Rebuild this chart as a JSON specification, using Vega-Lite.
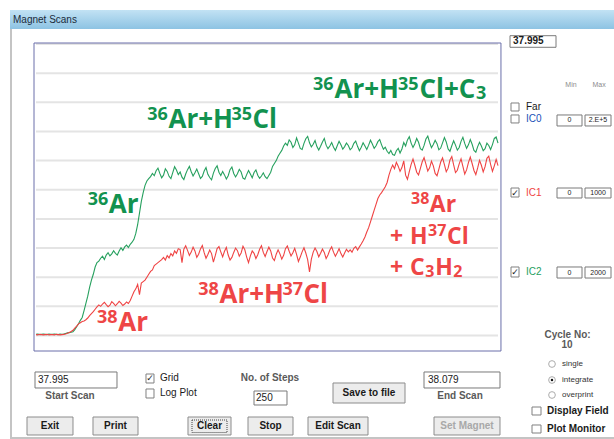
{
"$schema":"https://vega.github.io/schema/vega-lite/v6.json",
"width":462,"height":291.5,"autosize":"none",
"padding":{"left":36,"top":44,"right":116,"bottom":103.5},
"background":"white",
"config":{"view":{"stroke":null}},
"encoding":{
"x":{"field":"s","type":"quantitative","scale":{"domain":[0,250],"nice":false,"zero":false},"axis":null},
"y":{"field":"v","type":"quantitative","scale":{"domain":[0,100],"nice":false,"zero":false},"axis":null}
},
"layer":[
{"data":{"values":[{"s":-14.07,"s2":312.77,"v":111.67,"v2":105.14}]},
 "mark":{"type":"rect","color":{"gradient":"linear","x1":0,"y1":0,"x2":0,"y2":1,"stops":[{"offset":0,"color":"#c2e2f4"},{"offset":1,"color":"#8dc3e3"}]}},
 "encoding":{"x2":{"field":"s2"},"y2":{"field":"v2"}}},
{"data":{"values":[{"s":-13.53,"s2":-13.53,"v":105.14,"v2":-35.16},{"s":-14.07,"s2":312.77,"v":-35.16,"v2":-35.16}]},
 "mark":{"type":"rule","color":"#c4c4c4","strokeWidth":2},
 "encoding":{"x2":{"field":"s2"},"y2":{"field":"v2"}}},
{"data":{"values":[{"s":0,"s2":250,"v":0},{"s":0,"s2":250,"v":10},{"s":0,"s2":250,"v":20},{"s":0,"s2":250,"v":30},{"s":0,"s2":250,"v":40},{"s":0,"s2":250,"v":50},{"s":0,"s2":250,"v":60},{"s":0,"s2":250,"v":70},{"s":0,"s2":250,"v":80},{"s":0,"s2":250,"v":90},{"s":0,"s2":250,"v":100}]},
 "mark":{"type":"rule","color":"#e4e4e4","strokeWidth":2},
 "encoding":{"x2":{"field":"s2"}}},
{"data":{"values":[{"s":-1.08,"s2":251.6,"v":100.34,"v2":-5.32}]},
 "mark":{"type":"rect","fillOpacity":0,"stroke":"#6a6eaa","strokeWidth":1},
 "encoding":{"x2":{"field":"s2"},"y2":{"field":"v2"}}},
{"data":{"values":[
{"s":0,"IC2":0.4,"IC1":0.3},{"s":1,"IC2":0.5,"IC1":0.2},{"s":2,"IC2":0.3,"IC1":0.4},{"s":3,"IC2":0.4,"IC1":0.3},{"s":4,"IC2":0.5,"IC1":0.2},
{"s":5,"IC2":0.4,"IC1":0.3},{"s":6,"IC2":0.3,"IC1":0.4},{"s":7,"IC2":0.5,"IC1":0.2},{"s":8,"IC2":0.4,"IC1":0.3},{"s":9,"IC2":0.4,"IC1":0.3},
{"s":10,"IC2":0.5,"IC1":0.2},{"s":11,"IC2":0.4,"IC1":0.4},{"s":12,"IC2":0.3,"IC1":0.3},{"s":13,"IC2":0.5,"IC1":0.2},{"s":14,"IC2":0.4,"IC1":0.3},
{"s":15,"IC2":0.5,"IC1":0.4},{"s":16,"IC2":0.7,"IC1":0.5},{"s":17,"IC2":0.9,"IC1":0.8},{"s":18,"IC2":1.0,"IC1":1.0},{"s":19,"IC2":1.1,"IC1":1.4},
{"s":20,"IC2":1.3,"IC1":1.8},{"s":21,"IC2":2.0,"IC1":2.5},{"s":22,"IC2":3.0,"IC1":3.2},{"s":23,"IC2":4.0,"IC1":4.0},{"s":24,"IC2":5.2,"IC1":4.4},
{"s":25,"IC2":6.2,"IC1":4.8},{"s":26,"IC2":8.5,"IC1":5.0},{"s":27,"IC2":11,"IC1":5.4},{"s":28,"IC2":13.5,"IC1":6.0},{"s":29,"IC2":16.5,"IC1":6.8},
{"s":30,"IC2":19,"IC1":7.5},{"s":31,"IC2":21,"IC1":8.2},{"s":32,"IC2":23.5,"IC1":9.0},{"s":33,"IC2":25,"IC1":9.8},{"s":34,"IC2":25.5,"IC1":10.5},
{"s":35,"IC2":26.5,"IC1":10.0},{"s":36,"IC2":27.2,"IC1":10.8},{"s":37,"IC2":26.1,"IC1":11.4},{"s":38,"IC2":27.6,"IC1":10.6},{"s":39,"IC2":28.4,"IC1":9.9},
{"s":40,"IC2":27.3,"IC1":10.4},{"s":41,"IC2":28.0,"IC1":11.6},{"s":42,"IC2":29.1,"IC1":11.0},{"s":43,"IC2":28.2,"IC1":10.2},{"s":44,"IC2":27.6,"IC1":10.9},
{"s":45,"IC2":29.0,"IC1":11.7},{"s":46,"IC2":30.1,"IC1":11.1},{"s":47,"IC2":29.2,"IC1":10.3},{"s":48,"IC2":30.4,"IC1":10.8},{"s":49,"IC2":31.0,"IC1":11.5},
{"s":50,"IC2":30.2,"IC1":11.0},{"s":51,"IC2":31.3,"IC1":12},{"s":52,"IC2":32.0,"IC1":13.5},{"s":53,"IC2":33,"IC1":15},{"s":54,"IC2":35,"IC1":16},
{"s":55,"IC2":38,"IC1":17.5},{"s":56,"IC2":42,"IC1":14},{"s":57,"IC2":46,"IC1":18},{"s":58,"IC2":49,"IC1":18.5},{"s":59,"IC2":51.5,"IC1":19},
{"s":60,"IC2":53,"IC1":20},{"s":61,"IC2":53.8,"IC1":21},{"s":62,"IC2":54.5,"IC1":22},{"s":63,"IC2":55.6,"IC1":22.5},{"s":64,"IC2":54.8,"IC1":24},
{"s":65,"IC2":56.5,"IC1":24.5},{"s":66,"IC2":57.4,"IC1":25},{"s":67,"IC2":55.6,"IC1":25.5},{"s":68,"IC2":54.1,"IC1":26},{"s":69,"IC2":55.0,"IC1":26.8},
{"s":70,"IC2":57.2,"IC1":25.9},{"s":71,"IC2":56.3,"IC1":27.4},{"s":72,"IC2":54.6,"IC1":26.6},{"s":73,"IC2":53.8,"IC1":28.1},{"s":74,"IC2":55.9,"IC1":27.3},
{"s":75,"IC2":57.9,"IC1":29.0},{"s":76,"IC2":56.8,"IC1":28.2},{"s":77,"IC2":55.2,"IC1":29.8},{"s":78,"IC2":56.1,"IC1":29.5},{"s":79,"IC2":54.3,"IC1":25},
{"s":80,"IC2":53.5,"IC1":29.6},{"s":81,"IC2":55.4,"IC1":30.8},{"s":82,"IC2":56.9,"IC1":29.2},{"s":83,"IC2":58.0,"IC1":27.5},{"s":84,"IC2":56.2,"IC1":28.6},
{"s":85,"IC2":54.7,"IC1":30.3},{"s":86,"IC2":55.8,"IC1":29.0},{"s":87,"IC2":57.1,"IC1":26.8},{"s":88,"IC2":55.5,"IC1":27.9},{"s":89,"IC2":53.9,"IC1":29.7},
{"s":90,"IC2":54.6,"IC1":30.9},{"s":91,"IC2":56.4,"IC1":28.4},{"s":92,"IC2":57.6,"IC1":26.5},{"s":93,"IC2":55.3,"IC1":27.8},{"s":94,"IC2":54.2,"IC1":29.3},
{"s":95,"IC2":53.4,"IC1":28.1},{"s":96,"IC2":55.7,"IC1":25.2},{"s":97,"IC2":57.3,"IC1":27.4},{"s":98,"IC2":58.2,"IC1":29.8},{"s":99,"IC2":56.0,"IC1":30.5},
{"s":100,"IC2":54.9,"IC1":28.7},{"s":101,"IC2":56.3,"IC1":27.0},{"s":102,"IC2":55.1,"IC1":28.9},{"s":103,"IC2":53.7,"IC1":30.2},{"s":104,"IC2":54.8,"IC1":27.6},
{"s":105,"IC2":56.9,"IC1":25.9},{"s":106,"IC2":57.8,"IC1":26.8},{"s":107,"IC2":55.6,"IC1":28.5},{"s":108,"IC2":54.4,"IC1":30.0},{"s":109,"IC2":55.5,"IC1":29.1},
{"s":110,"IC2":57.0,"IC1":27.2},{"s":111,"IC2":56.1,"IC1":28.3},{"s":112,"IC2":54.0,"IC1":30.6},{"s":113,"IC2":53.6,"IC1":29.4},{"s":114,"IC2":55.2,"IC1":26.9},
{"s":115,"IC2":56.6,"IC1":25.0},{"s":116,"IC2":55.4,"IC1":27.3},{"s":117,"IC2":54.1,"IC1":29.0},{"s":118,"IC2":55.9,"IC1":28.2},{"s":119,"IC2":56.8,"IC1":26.4},
{"s":120,"IC2":55.0,"IC1":27.7},{"s":121,"IC2":53.9,"IC1":29.6},{"s":122,"IC2":54.7,"IC1":30.8},{"s":123,"IC2":55.8,"IC1":28.5},{"s":124,"IC2":54.5,"IC1":27.1},
{"s":125,"IC2":53.8,"IC1":28.8},{"s":126,"IC2":54.9,"IC1":30.3},{"s":127,"IC2":56,"IC1":29.0},{"s":128,"IC2":58,"IC1":26.6},{"s":129,"IC2":59,"IC1":25.7},
{"s":130,"IC2":60,"IC1":27.9},{"s":131,"IC2":61.5,"IC1":29.4},{"s":132,"IC2":62.5,"IC1":28.0},{"s":133,"IC2":63.5,"IC1":26.2},{"s":134,"IC2":65,"IC1":27.5},
{"s":135,"IC2":66,"IC1":29.8},{"s":136,"IC2":65.2,"IC1":30.7},{"s":137,"IC2":67.1,"IC1":28.9},{"s":138,"IC2":66.3,"IC1":27.3},{"s":139,"IC2":64.5,"IC1":28.4},
{"s":140,"IC2":65.4,"IC1":29.9},{"s":141,"IC2":67.8,"IC1":27.8},{"s":142,"IC2":66.0,"IC1":25.4},{"s":143,"IC2":64.2,"IC1":26.9},{"s":144,"IC2":63.8,"IC1":28.7},
{"s":145,"IC2":65.9,"IC1":30.1},{"s":146,"IC2":67.5,"IC1":28.3},{"s":147,"IC2":68.3,"IC1":26.0},{"s":148,"IC2":66.1,"IC1":21.8},{"s":149,"IC2":64.7,"IC1":26.2},
{"s":150,"IC2":65.6,"IC1":28.6},{"s":151,"IC2":66.9,"IC1":30.0},{"s":152,"IC2":64.8,"IC1":28.8},{"s":153,"IC2":63.6,"IC1":27.0},{"s":154,"IC2":64.9,"IC1":28.2},
{"s":155,"IC2":66.4,"IC1":29.7},{"s":156,"IC2":67.6,"IC1":28.5},{"s":157,"IC2":65.3,"IC1":26.4},{"s":158,"IC2":64.1,"IC1":27.6},{"s":159,"IC2":65.0,"IC1":29.3},
{"s":160,"IC2":66.2,"IC1":30.4},{"s":161,"IC2":64.6,"IC1":28.6},{"s":162,"IC2":63.5,"IC1":27.2},{"s":163,"IC2":65.1,"IC1":28.4},{"s":164,"IC2":66.6,"IC1":29.8},
{"s":165,"IC2":65.4,"IC1":28.1},{"s":166,"IC2":63.9,"IC1":26.9},{"s":167,"IC2":64.8,"IC1":28.3},{"s":168,"IC2":66.0,"IC1":29.6},{"s":169,"IC2":65.2,"IC1":28.7},
{"s":170,"IC2":63.7,"IC1":29.4},{"s":171,"IC2":64.4,"IC1":28.6},{"s":172,"IC2":65.9,"IC1":29.9},{"s":173,"IC2":66.7,"IC1":30.5},{"s":174,"IC2":64.9,"IC1":29.3},
{"s":175,"IC2":63.4,"IC1":30.4},{"s":176,"IC2":64.6,"IC1":31.4},{"s":177,"IC2":66.1,"IC1":32.5},{"s":178,"IC2":65.0,"IC1":33.8},{"s":179,"IC2":63.8,"IC1":35.5},
{"s":180,"IC2":65.3,"IC1":37},{"s":181,"IC2":67.0,"IC1":39},{"s":182,"IC2":65.7,"IC1":41},{"s":183,"IC2":64.2,"IC1":43},{"s":184,"IC2":65.1,"IC1":45},
{"s":185,"IC2":66.5,"IC1":47},{"s":186,"IC2":67.2,"IC1":48.2},{"s":187,"IC2":65.4,"IC1":49},{"s":188,"IC2":63.9,"IC1":50},{"s":189,"IC2":64.6,"IC1":51},
{"s":190,"IC2":63.2,"IC1":52.5},{"s":191,"IC2":62.4,"IC1":55},{"s":192,"IC2":63.5,"IC1":57},{"s":193,"IC2":62.1,"IC1":58.5},{"s":194,"IC2":61.8,"IC1":57.2},
{"s":195,"IC2":63.4,"IC1":59.4},{"s":196,"IC2":64.2,"IC1":58.1},{"s":197,"IC2":62.6,"IC1":56.3},{"s":198,"IC2":64.0,"IC1":57.6},{"s":199,"IC2":66.2,"IC1":59.9},
{"s":200,"IC2":65.0,"IC1":55.0},{"s":201,"IC2":67.1,"IC1":53.6},{"s":202,"IC2":68.2,"IC1":56.2},{"s":203,"IC2":66.0,"IC1":58.7},{"s":204,"IC2":64.5,"IC1":60.5},
{"s":205,"IC2":65.8,"IC1":58.4},{"s":206,"IC2":67.6,"IC1":56.0},{"s":207,"IC2":66.3,"IC1":55.1},{"s":208,"IC2":64.1,"IC1":57.3},{"s":209,"IC2":63.6,"IC1":59.6},
{"s":210,"IC2":65.2,"IC1":61.0},{"s":211,"IC2":67.4,"IC1":58.8},{"s":212,"IC2":68.4,"IC1":56.4},{"s":213,"IC2":66.2,"IC1":57.5},{"s":214,"IC2":64.4,"IC1":59.8},
{"s":215,"IC2":65.5,"IC1":58.2},{"s":216,"IC2":67.0,"IC1":55.6},{"s":217,"IC2":65.8,"IC1":54.8},{"s":218,"IC2":63.7,"IC1":57.1},{"s":219,"IC2":64.3,"IC1":59.5},
{"s":220,"IC2":66.1,"IC1":60.9},{"s":221,"IC2":67.9,"IC1":58.6},{"s":222,"IC2":66.4,"IC1":56.2},{"s":223,"IC2":64.0,"IC1":57.4},{"s":224,"IC2":63.2,"IC1":60.2},
{"s":225,"IC2":65.1,"IC1":61.4},{"s":226,"IC2":66.8,"IC1":58.5},{"s":227,"IC2":65.3,"IC1":55.9},{"s":228,"IC2":63.6,"IC1":56.7},{"s":229,"IC2":64.5,"IC1":58.9},
{"s":230,"IC2":66.6,"IC1":60.6},{"s":231,"IC2":68.0,"IC1":58.0},{"s":232,"IC2":65.9,"IC1":55.4},{"s":233,"IC2":64.2,"IC1":56.8},{"s":234,"IC2":65.4,"IC1":59.3},
{"s":235,"IC2":67.2,"IC1":61.2},{"s":236,"IC2":65.6,"IC1":59.0},{"s":237,"IC2":63.5,"IC1":56.6},{"s":238,"IC2":62.9,"IC1":55.2},{"s":239,"IC2":64.8,"IC1":57.5},
{"s":240,"IC2":66.3,"IC1":60.1},{"s":241,"IC2":65.0,"IC1":58.4},{"s":242,"IC2":63.4,"IC1":56.1},{"s":243,"IC2":64.1,"IC1":57.9},{"s":244,"IC2":66.0,"IC1":60.8},
{"s":245,"IC2":65.2,"IC1":61.5},{"s":246,"IC2":63.8,"IC1":58.7},{"s":247,"IC2":65.5,"IC1":56.3},{"s":248,"IC2":67.6,"IC1":58.2},{"s":249,"IC2":68.1,"IC1":60.4},
{"s":250,"IC2":66.0,"IC1":58.3}
]},
 "transform":[{"fold":["IC2","IC1"],"as":["series","v"]}],
 "mark":{"type":"line","strokeWidth":1.1},
 "encoding":{"color":{"field":"series","type":"nominal","legend":null,
   "scale":{"domain":["IC0","IC1","IC2","title","label","caption","hint","disabled"],"range":["#2050b8","#ef4343","#26a05e","#1b2b3b","#1a1a1a","#5a5a5a","#8c8c8c","#a8a8a8"]}}}},
{"data":{"values":[
 {"s":161.53,"v":81.47,"t":"Ar+H"},{"s":207.52,"v":81.47,"t":"Cl+C"},
 {"s":71.7,"v":71.18,"t":"Ar+H"},{"s":117.15,"v":71.18,"t":"Cl"},
 {"s":39.39,"v":42.02,"t":"Ar"}]},
 "mark":{"type":"text","align":"left","baseline":"alphabetic","font":"Open Sans","fontWeight":"bold","fontSize":26,"color":"#12924f"},
 "encoding":{"text":{"field":"t"}}},
{"data":{"values":[
 {"s":149.89,"v":81.47,"t":"36"},{"s":195.89,"v":81.47,"t":"35"},
 {"s":60.23,"v":71.18,"t":"36"},{"s":105.79,"v":71.18,"t":"35"},
 {"s":27.98,"v":42.02,"t":"36"}]},
 "mark":{"type":"text","align":"left","baseline":"alphabetic","font":"Open Sans","fontWeight":"bold","fontSize":18,"dy":-8,"color":"#12924f"},
 "encoding":{"text":{"field":"t"}}},
{"data":{"values":[{"s":238.1,"v":81.47,"t":"3"}]},
 "mark":{"type":"text","align":"left","baseline":"alphabetic","font":"Open Sans","fontWeight":"bold","fontSize":18,"dy":1,"color":"#12924f"},
 "encoding":{"text":{"field":"t"}}},
{"data":{"values":[
 {"s":44.48,"v":1.54,"t":"Ar"},
 {"s":99.3,"v":11.15,"t":"Ar+H"},{"s":144.75,"v":11.15,"t":"Cl"}]},
 "mark":{"type":"text","align":"left","baseline":"alphabetic","font":"Open Sans","fontWeight":"bold","fontSize":26,"color":"#ee4646"},
 "encoding":{"text":{"field":"t"}}},
{"data":{"values":[
 {"s":33.01,"v":1.54,"t":"38"},
 {"s":87.83,"v":11.15,"t":"38"},{"s":133.39,"v":11.15,"t":"37"}]},
 "mark":{"type":"text","align":"left","baseline":"alphabetic","font":"Open Sans","fontWeight":"bold","fontSize":18,"dy":-8,"color":"#ee4646"},
 "encoding":{"text":{"field":"t"}}},
{"data":{"values":[
 {"s":213.1,"v":42.37,"t":"Ar"},
 {"s":191.56,"v":31.56,"t":"+"},{"s":202.38,"v":31.56,"t":"H"},{"s":222.4,"v":31.56,"t":"Cl"},
 {"s":191.56,"v":20.75,"t":"+"},{"s":202.38,"v":20.75,"t":"C"},{"s":216.07,"v":20.75,"t":"H"}]},
 "mark":{"type":"text","align":"left","baseline":"alphabetic","font":"Open Sans","fontWeight":"bold","fontSize":23,"color":"#ee4646"},
 "encoding":{"text":{"field":"t"}}},
{"data":{"values":[
 {"s":202.92,"v":42.37,"t":"38"},
 {"s":212.12,"v":31.56,"t":"37"}]},
 "mark":{"type":"text","align":"left","baseline":"alphabetic","font":"Open Sans","fontWeight":"bold","fontSize":16,"dy":-7.5,"color":"#ee4646"},
 "encoding":{"text":{"field":"t"}}},
{"data":{"values":[{"s":210.67,"v":20.75,"t":"3"},{"s":225.82,"v":20.75,"t":"2"}]},
 "mark":{"type":"text","align":"left","baseline":"alphabetic","font":"Open Sans","fontWeight":"bold","fontSize":16,"dy":2,"color":"#ee4646"},
 "encoding":{"text":{"field":"t"}}},
{"data":{"values":[
 {"s":256.5,"s2":281.39,"v":102.85,"v2":98.87},
 {"s":281.93,"s2":295.46,"v":75.65,"v2":71.88},{"s":297.08,"s2":311.15,"v":75.65,"v2":71.88},
 {"s":281.93,"s2":295.46,"v":50.6,"v2":47.17},{"s":297.08,"s2":311.15,"v":50.6,"v2":47.17},
 {"s":281.93,"s2":295.46,"v":23.5,"v2":19.72},{"s":297.08,"s2":311.15,"v":23.5,"v2":19.72},
 {"s":-0.54,"s2":43.83,"v":-12.52,"v2":-18.01},{"s":117.97,"s2":135.82,"v":-19.04,"v2":-23.84},{"s":209.96,"s2":251.08,"v":-12.52,"v2":-18.01}]},
 "mark":{"type":"rect","fill":"white","stroke":"#7a7a7a","strokeWidth":1},
 "encoding":{"x2":{"field":"s2"},"y2":{"field":"v2"}}},
{"data":{"values":[
 {"s":160.72,"s2":199.68,"v":-16.29,"v2":-23.16},
 {"s":-4.87,"s2":20.02,"v":-27.96,"v2":-34.13},{"s":30.84,"s2":55.2,"v":-27.96,"v2":-34.13},{"s":82.25,"s2":105.52,"v":-27.96,"v2":-34.13},
 {"s":114.72,"s2":139.07,"v":-27.96,"v2":-34.13},{"s":147.19,"s2":179.66,"v":-27.96,"v2":-34.13},{"s":215.37,"s2":251.08,"v":-27.96,"v2":-34.13}]},
 "mark":{"type":"rect","fill":"#ececec","stroke":"#8c8c8c","strokeWidth":1},
 "encoding":{"x2":{"field":"s2"},"y2":{"field":"v2"}}},
{"data":{"values":[{"s":84.42,"s2":103.36,"v":-28.99,"v2":-33.28}]},
 "mark":{"type":"rect","fillOpacity":0,"stroke":"#444444","strokeWidth":1,"strokeDash":[1,1]},
 "encoding":{"x2":{"field":"s2"},"y2":{"field":"v2"}}},
{"data":{"values":[
 {"s":257.04,"s2":261.37,"v":79.76,"v2":77.02},{"s":257.04,"s2":261.37,"v":75.65,"v2":72.91},
 {"s":257.04,"s2":261.37,"v":50.6,"v2":47.51},{"s":257.04,"s2":261.37,"v":23.5,"v2":20.07},
 {"s":59.52,"s2":63.85,"v":-13.21,"v2":-16.29},{"s":59.52,"s2":63.85,"v":-18.35,"v2":-21.44},
 {"s":268.4,"s2":273.27,"v":-24.53,"v2":-27.27},{"s":268.4,"s2":273.27,"v":-30.7,"v2":-33.45}]},
 "mark":{"type":"rect","fill":"white","stroke":"#808080","strokeWidth":1},
 "encoding":{"x2":{"field":"s2"},"y2":{"field":"v2"}}},
{"data":{"values":[{"s":259.2,"v":49.05,"t":"✓"},{"s":259.2,"v":21.78,"t":"✓"},{"s":61.68,"v":-14.75,"t":"✓"}]},
 "mark":{"type":"text","align":"center","baseline":"middle","font":"DejaVu Sans","fontWeight":"bold","fontSize":9,"color":"#222222"},
 "encoding":{"text":{"field":"t"}}},
{"data":{"values":[{"s":279.22,"v":-9.78},{"s":279.22,"v":-15.27},{"s":279.22,"v":-20.41}]},
 "mark":{"type":"point","shape":"circle","filled":false,"size":45,"color":"#8a8a8a","strokeWidth":1}},
{"data":{"values":[{"s":279.22,"v":-15.27}]},
 "mark":{"type":"point","shape":"circle","filled":true,"size":6,"color":"#111111","opacity":1}},
{"data":{"values":[
 {"s":-12.45,"v":108.23,"t":"Magnet Scans","role":"title"},
 {"s":265.15,"v":78.39,"t":"Far","role":"label"},
 {"s":265.15,"v":74.28,"t":"IC0","role":"IC0"},
 {"s":265.15,"v":48.88,"t":"IC1","role":"IC1"},
 {"s":265.15,"v":21.78,"t":"IC2","role":"IC2"},
 {"s":1.08,"v":-15.27,"t":"37.995","role":"label"},
 {"s":119.05,"v":-21.44,"t":"250","role":"label"},
 {"s":212.12,"v":-15.27,"t":"38.079","role":"label"},
 {"s":67.1,"v":-14.58,"t":"Grid","role":"label"},
 {"s":67.1,"v":-19.73,"t":"Log Plot","role":"label"}]},
 "mark":{"type":"text","align":"left","baseline":"middle","font":"Liberation Sans","fontSize":10},
 "encoding":{"text":{"field":"t"},"color":{"field":"role","type":"nominal","legend":null,
   "scale":{"domain":["IC0","IC1","IC2","title","label","caption","hint","disabled"],"range":["#2050b8","#ef4343","#26a05e","#1b2b3b","#1a1a1a","#5a5a5a","#8c8c8c","#a8a8a8"]}}}},
{"data":{"values":[
 {"s":289.5,"v":85.93,"t":"Min","role":"hint"},{"s":304.66,"v":85.93,"t":"Max","role":"hint"},
 {"s":288.7,"v":73.76,"t":"0","role":"label"},{"s":304.12,"v":73.76,"t":"2.E+5","role":"label"},
 {"s":288.7,"v":48.88,"t":"0","role":"label"},{"s":304.12,"v":48.88,"t":"1000","role":"label"},
 {"s":288.7,"v":21.61,"t":"0","role":"label"},{"s":304.12,"v":21.61,"t":"2000","role":"label"}]},
 "mark":{"type":"text","align":"center","baseline":"middle","font":"Liberation Sans","fontSize":7},
 "encoding":{"text":{"field":"t"},"color":{"field":"role","type":"nominal","legend":null,
   "scale":{"domain":["IC0","IC1","IC2","title","label","caption","hint","disabled"],"range":["#2050b8","#ef4343","#26a05e","#1b2b3b","#1a1a1a","#5a5a5a","#8c8c8c","#a8a8a8"]}}}},
{"data":{"values":[
 {"s":284.63,"v":-9.78,"t":"single"},{"s":284.63,"v":-15.27,"t":"integrate"},{"s":284.63,"v":-20.41,"t":"overprint"}]},
 "mark":{"type":"text","align":"left","baseline":"middle","font":"Liberation Sans","fontSize":8,"color":"#333333"},
 "encoding":{"text":{"field":"t"}}},
{"data":{"values":[
 {"s":18.4,"v":-20.75,"t":"Start Scan","role":"caption"},
 {"s":229.44,"v":-20.75,"t":"End Scan","role":"caption"},
 {"s":126.62,"v":-14.58,"t":"No. of Steps","role":"caption"},
 {"s":287.61,"v":0.17,"t":"Cycle No:","role":"caption"},
 {"s":287.34,"v":-3.26,"t":"10","role":"caption"},
 {"s":180.2,"v":-19.73,"t":"Save to file","role":"label"},
 {"s":7.58,"v":-31.05,"t":"Exit","role":"label"},
 {"s":43.02,"v":-31.05,"t":"Print","role":"label"},
 {"s":93.89,"v":-31.05,"t":"Clear","role":"label"},
 {"s":126.9,"v":-31.05,"t":"Stop","role":"label"},
 {"s":163.42,"v":-31.05,"t":"Edit Scan","role":"label"},
 {"s":233.23,"v":-31.05,"t":"Set Magnet","role":"disabled"}]},
 "mark":{"type":"text","align":"center","baseline":"middle","font":"Liberation Sans","fontWeight":"bold","fontSize":10},
 "encoding":{"text":{"field":"t"},"color":{"field":"role","type":"nominal","legend":null,
   "scale":{"domain":["IC0","IC1","IC2","title","label","caption","hint","disabled"],"range":["#2050b8","#ef4343","#26a05e","#1b2b3b","#1a1a1a","#5a5a5a","#8c8c8c","#a8a8a8"]}}}},
{"data":{"values":[
 {"s":258.12,"v":100.86,"t":"37.995"},
 {"s":276.52,"v":-25.9,"t":"Display Field"},
 {"s":276.52,"v":-32.08,"t":"Plot Monitor"}]},
 "mark":{"type":"text","align":"left","baseline":"middle","font":"Liberation Sans","fontWeight":"bold","fontSize":10,"color":"#1a1a1a"},
 "encoding":{"text":{"field":"t"}}}
]
}
